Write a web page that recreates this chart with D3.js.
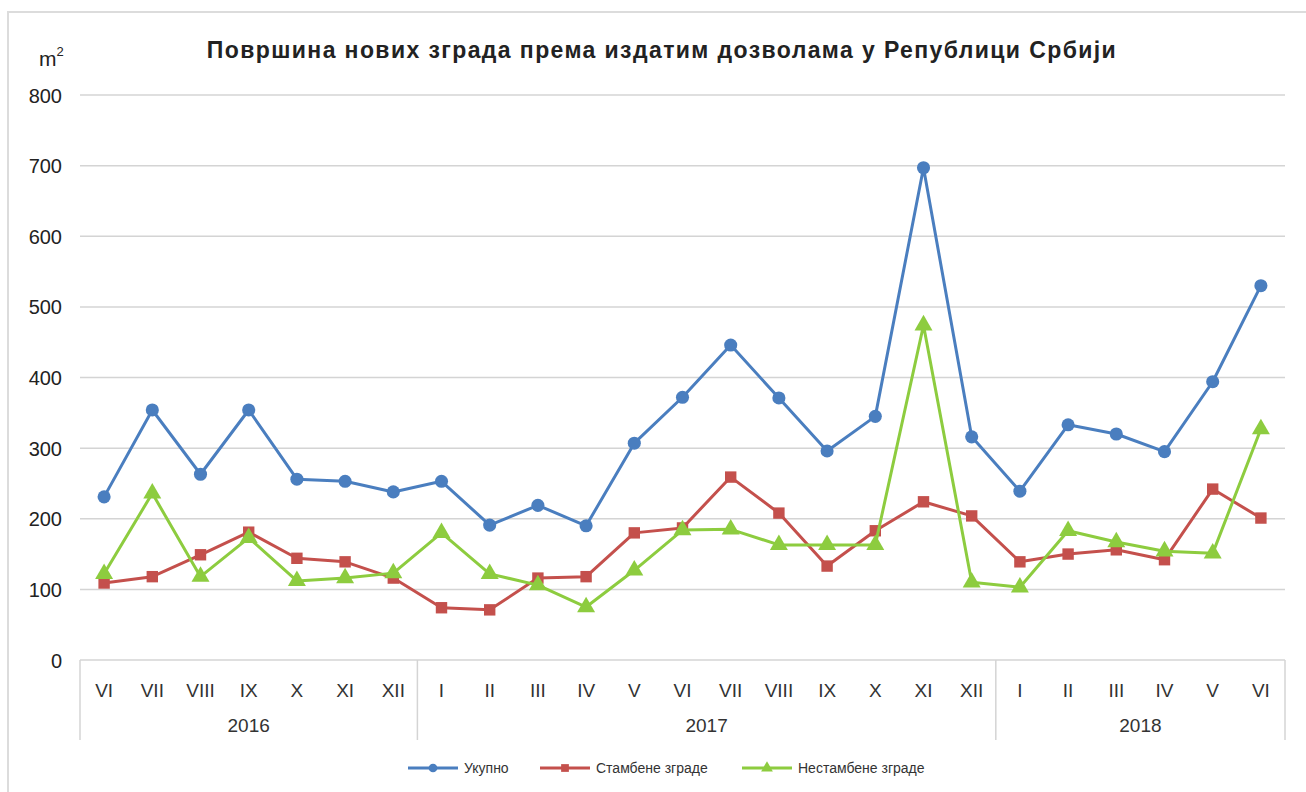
<!DOCTYPE html>
<html>
<head>
<meta charset="utf-8">
<script src="https://cdn.jsdelivr.net/npm/d3@7"></script>
<style>
  body { margin: 0; background: #fff; }
  text { font-family: "Liberation Sans", Arial, sans-serif; }
</style>
</head>
<body>
<div id="chart"></div>
<script>
var months = ["VI","VII","VIII","IX","X","XI","XII",
              "I","II","III","IV","V","VI","VII","VIII","IX","X","XI","XII",
              "I","II","III","IV","V","VI"];
var years = [{label: "2016", count: 7}, {label: "2017", count: 12}, {label: "2018", count: 6}];

var ukupno = [231, 354, 263, 354, 256, 253, 238,
              253, 191, 219, 190, 307, 372, 446, 371, 296, 345, 697, 316,
              239, 333, 320, 295, 394, 530];
var stambene = [109, 118, 149, 181, 144, 139, 116,
                74, 71, 116, 118, 180, 187, 259, 208, 133, 183, 224, 204,
                139, 150, 156, 142, 242, 201];
var nestambene = [122, 236, 118, 173, 112, 116, 123,
                  180, 122, 106, 75, 127, 184, 185, 163, 163, 163, 474, 110,
                  103, 183, 167, 154, 151, 327];

var yTicks = [0, 100, 200, 300, 400, 500, 600, 700, 800];

var series = [
  {name: "Укупно", values: ukupno, color: "#4a7ebf", marker: "circle"},
  {name: "Стамбене зграде", values: stambene, color: "#c4504c", marker: "square"},
  {name: "Нестамбене зграде", values: nestambene, color: "#8dcc3f", marker: "triangle"}
];

var W = 1306, H = 792;
var plotLeft = 80, plotRight = 1285, plotTop = 95, plotBottom = 660;

var svg = d3.select("#chart").append("svg")
    .attr("width", W)
    .attr("height", H);

// outer frame
svg.append("rect")
    .attr("x", 8).attr("y", 12)
    .attr("width", W + 10).attr("height", H + 10)
    .attr("fill", "none")
    .attr("stroke", "#dcdcdc")
    .attr("stroke-width", 2);

var x = d3.scaleBand()
    .domain(d3.range(months.length))
    .range([plotLeft, plotRight]);

var y = d3.scaleLinear()
    .domain([0, 800])
    .range([plotBottom, plotTop]);

// gridlines
svg.append("g").selectAll("line")
    .data(yTicks.filter(function(d) { return d > 0; }))
    .enter().append("line")
    .attr("x1", plotLeft).attr("x2", plotRight)
    .attr("y1", function(d) { return y(d); })
    .attr("y2", function(d) { return y(d); })
    .attr("stroke", "#d4d4d4")
    .attr("stroke-width", 1.5);

// y axis labels
var yAxis = d3.axisLeft(y).tickValues(yTicks).tickSize(0).tickPadding(0);
var ya = svg.append("g")
    .attr("transform", "translate(62,0)")
    .call(yAxis);
ya.select(".domain").remove();
ya.selectAll("text")
    .attr("font-size", "20px")
    .attr("fill", "#222")
    .attr("dy", "0.35em");

// category axis
var xa = svg.append("g")
    .attr("transform", "translate(0," + plotBottom + ")")
    .call(d3.axisBottom(x).tickSize(0).tickPadding(0).tickFormat(function(i) { return months[i]; }));
xa.select(".domain").remove();
xa.selectAll("text")
    .attr("y", 37)
    .attr("dy", 0)
    .attr("font-size", "19px")
    .attr("fill", "#333");

svg.append("line")
    .attr("x1", plotLeft).attr("x2", plotRight)
    .attr("y1", plotBottom).attr("y2", plotBottom)
    .attr("stroke", "#d4d4d4").attr("stroke-width", 1.5);

// year groups
var start = 0, bounds = [0];
years.forEach(function(yr) {
  var a = x(start), b = x(start + yr.count - 1) + x.bandwidth();
  svg.append("text")
      .attr("x", (a + b) / 2)
      .attr("y", 732)
      .attr("text-anchor", "middle")
      .attr("font-size", "19px")
      .attr("fill", "#333")
      .text(yr.label);
  start += yr.count;
  bounds.push(start);
});
bounds.forEach(function(i) {
  var bx = i < months.length ? x(i) : plotRight;
  svg.append("line")
      .attr("x1", bx).attr("x2", bx)
      .attr("y1", plotBottom).attr("y2", 740)
      .attr("stroke", "#d4d4d4").attr("stroke-width", 1.5);
});

// series
var line = d3.line()
    .x(function(d, i) { return x(i) + x.bandwidth() / 2; })
    .y(function(d) { return y(d); });

var symbolType = {circle: d3.symbolCircle, square: d3.symbolSquare, triangle: d3.symbolTriangle};
var symbolSize = {circle: 135, square: 130, triangle: 140};

series.forEach(function(s) {
  var g = svg.append("g");
  g.append("path")
      .datum(s.values)
      .attr("d", line)
      .attr("fill", "none")
      .attr("stroke", s.color)
      .attr("stroke-width", 3)
      .attr("stroke-linejoin", "round");
  g.selectAll("path.m")
      .data(s.values)
      .enter().append("path")
      .attr("class", "m")
      .attr("d", d3.symbol().type(symbolType[s.marker]).size(symbolSize[s.marker]))
      .attr("transform", function(d, i) {
        return "translate(" + (x(i) + x.bandwidth() / 2) + "," + y(d) + ")";
      })
      .attr("fill", s.color);
});

// title
svg.append("text")
    .attr("x", 662)
    .attr("y", 58)
    .attr("text-anchor", "middle")
    .attr("font-size", "23px")
    .attr("font-weight", "bold")
    .attr("letter-spacing", "1.4px")
    .attr("fill", "#222")
    .text("Површина нових зграда према издатим дозволама у Републици Србији");

var unit = svg.append("text")
    .attr("x", 39)
    .attr("y", 66)
    .attr("font-size", "21px")
    .attr("fill", "#222")
    .text("m");
unit.append("tspan")
    .attr("font-size", "13px")
    .attr("dy", -10)
    .text("2");

// legend
var legendX = [408, 540, 742];
series.forEach(function(s, i) {
  var lg = svg.append("g").attr("transform", "translate(" + legendX[i] + ",768)");
  lg.append("line")
      .attr("x1", 0).attr("x2", 50)
      .attr("stroke", s.color).attr("stroke-width", 3);
  lg.append("path")
      .attr("d", d3.symbol().type(symbolType[s.marker]).size(60))
      .attr("transform", "translate(25,0)")
      .attr("fill", s.color);
  lg.append("text")
      .attr("x", 56)
      .attr("dy", "0.35em")
      .attr("font-size", "14px")
      .attr("fill", "#333")
      .text(s.name);
});
</script>
</body>
</html>
